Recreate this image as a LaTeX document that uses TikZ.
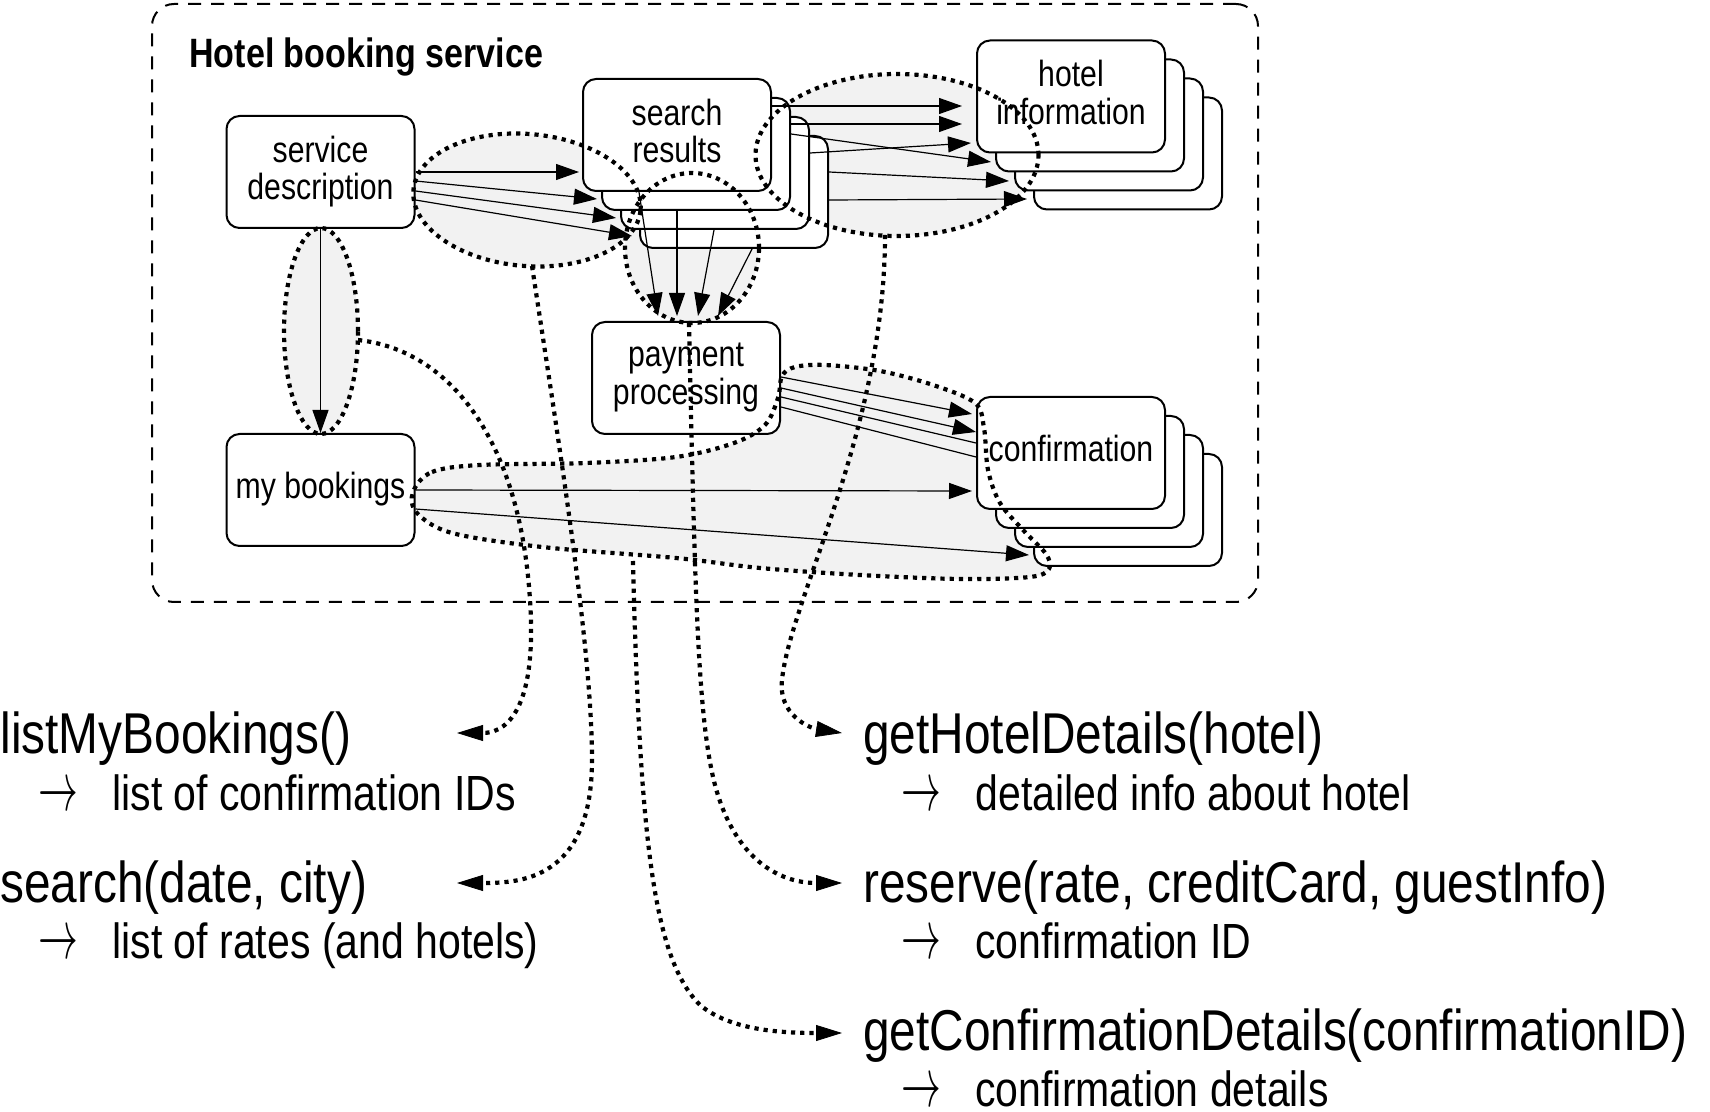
\documentclass[tikz,border=0pt]{standalone}
\usepackage{fontspec}
\setmainfont{Liberation Sans}[FakeStretch=0.83]
\usepackage{graphicx}
\usetikzlibrary{arrows.meta,calc}
\tikzset{
  box/.style={draw, line width=1pt, rounded corners=6.5pt, fill=white,
    minimum width=94pt, minimum height=56pt, inner sep=0pt, align=center,
    text depth=4.2pt, font=\fontsize{18.2}{18.8}\selectfont},
  flow/.style={line width=0.6pt, -{Triangle[length=11.5pt,width=8pt]}},
  plainflow/.style={line width=0.6pt},
  grayfill/.style={fill=black!5},
  dots/.style={line width=2.1pt, dash pattern=on 2.1pt off 2.5pt},
  link/.style={dots, -{Triangle[length=13pt,width=8pt,line width=0.4pt]}},
  api/.style={anchor=base west, inner sep=0pt, font=\fontsize{28.8}{30}\selectfont},
  ret/.style={anchor=base west, inner sep=0pt, font=\fontsize{24.7}{26}\selectfont},
}
\newcommand{\retarrow}{\makebox[37pt][l]{\scalebox{0.8}[1.4]{$\rightarrow$}}}
\begin{document}
\begin{tikzpicture}[x=0.5pt,y=-0.5pt]
\useasboundingbox (0,0) rectangle (1710,1112);

% service frame
\node[draw, line width=1pt, dash pattern=on 6.5pt off 5pt, rounded corners=11pt,
  minimum width=553pt, minimum height=299pt, inner sep=0pt] (svc) at (705,303) {};
\node[anchor=base west, inner sep=0pt, font=\bfseries\fontsize{20.5}{22}\selectfont]
  (title) at (189,68) {Hotel booking service};

% group centres
\coordinate (e1) at (527,200);
\coordinate (e2) at (321,331);
\coordinate (e3) at (692,248);
\coordinate (e4) at (897,155);

% gray fills
\fill[grayfill, rotate around={-5:(e1)}] (e1) ellipse [x radius=57pt, y radius=33pt];
\fill[grayfill] (e2) ellipse [x radius=18.5pt, y radius=51.5pt];
\fill[grayfill] (e3) ellipse [x radius=33.5pt, y radius=37.5pt];
\fill[grayfill] (e4) ellipse [x radius=70.75pt, y radius=40.5pt];
\fill[grayfill] plot[smooth cycle, tension=0.55] coordinates {
  (413,492) (432,472) (480,465) (586,463) (676,457) (734,443) (765,425)
  (778,398) (782,376) (795,367) (825,365) (880,371) (933,385) (975,403)
  (984,428) (988,470) (1000,503) (1024,531) (1046,554) (1049,569)
  (1030,577) (960,579) (860,575) (760,568) (676,558) (542,547) (452,533) (417,513)};

% boxes
\node[box] (sd) at (320.5,172) {service\\description};
\node[box] (mb) at (320.5,490) {my bookings};
\node[box] (sr4) at (734,192) {};
\node[box] (sr3) at (715,173) {};
\node[box] (sr2) at (696,154) {};
\node[box] (sr) at (677,135) {search\\results};
\node[box] (pp) at (686,378) {payment\\processing};
\node[box] (hi4) at (1128,153.5) {};
\node[box] (hi3) at (1109,134.5) {};
\node[box] (hi2) at (1090,115.5) {};
\node[box] (hi) at (1071,96.5) {hotel\\information};
\node[box] (cf4) at (1128,510) {};
\node[box] (cf3) at (1109,491) {};
\node[box] (cf2) at (1090,472) {};
\node[box] (cf) at (1071,453) {confirmation};

% service description -> search results
\draw[flow] (sd.east) -- ([xshift=-1.5pt,yshift=-18.5pt]sr.west);
\draw[flow] ([yshift=-4.5pt]sd.east) -- ([xshift=-2pt,yshift=-22.5pt]sr2.west);
\draw[flow] ([yshift=-9.5pt]sd.east) -- ([xshift=-2pt,yshift=-22.5pt]sr3.west);
\draw[flow] ([yshift=-14pt]sd.east) -- ([xshift=-3.5pt,yshift=-22pt]sr4.west);
% service description -> my bookings
\draw[flow] (sd.south) -- (mb.north);
% search results -> payment
\draw[flow] ([xshift=-19pt]sr.south) -- ([xshift=-14pt,yshift=2.5pt]pp.north);
\draw[flow] ([xshift=-9.5pt]sr2.south) -- ([xshift=-4.5pt,yshift=2.5pt]pp.north);
\draw[flow] ([xshift=-0.5pt]sr3.south) -- ([xshift=6pt,yshift=2.5pt]pp.north);
\draw[flow] ([xshift=9pt]sr4.south) -- ([xshift=16pt,yshift=2.5pt]pp.north);
% search results -> hotel information
\draw[flow] ([yshift=14.5pt]sr.east) -- ([xshift=-7pt,yshift=-4.75pt]hi.west);
\draw[flow] ([yshift=15pt]sr2.east) -- ([xshift=-7pt,yshift=-13.75pt]hi.west);
\draw[flow] ([yshift=10pt]sr3.east) -- ([xshift=-2.5pt,yshift=-23.25pt]hi.west);
\draw[flow] ([yshift=10pt]sr2.east) -- ([xshift=-2pt,yshift=-23.25pt]hi2.west);
\draw[flow] ([yshift=10pt]sr4.east) -- ([xshift=-2.5pt,yshift=-23.25pt]hi3.west);
\draw[flow] ([yshift=-4pt]sr4.east) -- ([xshift=-3pt,yshift=-22.75pt]hi4.west);
% payment -> confirmation
\draw[flow] ([yshift=0.5pt]pp.east) -- ([xshift=-2pt,yshift=19.5pt]cf.west);
\draw[flow] ([yshift=-5pt]pp.east) -- ([yshift=10.5pt]cf.west);
\draw[plainflow] ([yshift=-9.5pt]pp.east) -- ([yshift=5pt]cf.west);
\draw[plainflow] ([yshift=-14.5pt]pp.east) -- ([yshift=-2pt]cf.west);
% my bookings -> confirmation
\draw[flow] (mb.east) -- ([xshift=-2pt,yshift=-19pt]cf.west);
\draw[flow] ([yshift=-9.5pt]mb.east) -- ([xshift=-2pt,yshift=-22.5pt]cf4.west);

% dotted group outlines
\draw[dots, rotate around={-5:(e1)}] (e1) ellipse [x radius=57pt, y radius=33pt];
\draw[dots] (e2) ellipse [x radius=18.5pt, y radius=51.5pt];
\draw[dots] (e3) ellipse [x radius=33.5pt, y radius=37.5pt];
\draw[dots] (e4) ellipse [x radius=70.75pt, y radius=40.5pt];
\draw[dots] plot[smooth cycle, tension=0.55] coordinates {
  (413,492) (432,472) (480,465) (586,463) (676,457) (734,443) (765,425)
  (778,398) (782,376) (795,367) (825,365) (880,371) (933,385) (975,403)
  (984,428) (988,470) (1000,503) (1024,531) (1046,554) (1049,569)
  (1030,577) (960,579) (860,575) (760,568) (676,558) (542,547) (452,533) (417,513)};

% operation texts
\node[api] (lmb) at (0,754) {listMyBookings()};
\node[ret] (lmbr) at (38,810) {\retarrow list of confirmation IDs};
\node[api] (srch) at (0,902) {search(date, city)};
\node[ret] (srchr) at (38,958) {\retarrow list of rates (and hotels)};
\node[api] (ghd) at (863,754) {getHotelDetails(hotel)};
\node[ret] (ghdr) at (901,810) {\retarrow detailed info about hotel};
\node[api] (rsv) at (863,902) {reserve(rate, creditCard, guestInfo)};
\node[ret] (rsvr) at (901,958) {\retarrow confirmation ID};
\node[api] (gcd) at (863,1050) {getConfirmationDetails(confirmationID)};
\node[ret] (gcdr) at (901,1106) {\retarrow confirmation details};

% connector end points
\coordinate (k1) at (358,340);
\coordinate (k2) at (532,266);
\coordinate (k3) at (633,561);
\coordinate (k4) at (689,323);
\coordinate (k5) at (885,235);
\coordinate (t1) at (457,733);
\coordinate (t2) at (457,883);
\coordinate (t3) at (842,1033);
\coordinate (t4) at (842,883);
\coordinate (t5) at (842,733);

% dotted connectors to operations
\draw[link] (k1) .. controls (450,350) and (520,440) .. (530,600)
  .. controls (538,720) and (500,733) .. (t1);
\draw[link] (k2) .. controls (560,450) and (592,650) .. (592,760)
  .. controls (592,880) and (520,883) .. (t2);
\draw[link] (k3) .. controls (640,850) and (655,960) .. (700,1005)
  .. controls (730,1030) and (780,1033) .. (t3);
\draw[link] (k4) .. controls (695,600) and (698,720) .. (715,785)
  .. controls (735,860) and (780,883) .. (t4);
\draw[link] (k5) .. controls (885,430) and (790,600) .. (782,680)
  .. controls (778,715) and (810,728) .. (t5);
\end{tikzpicture}
\end{document}
